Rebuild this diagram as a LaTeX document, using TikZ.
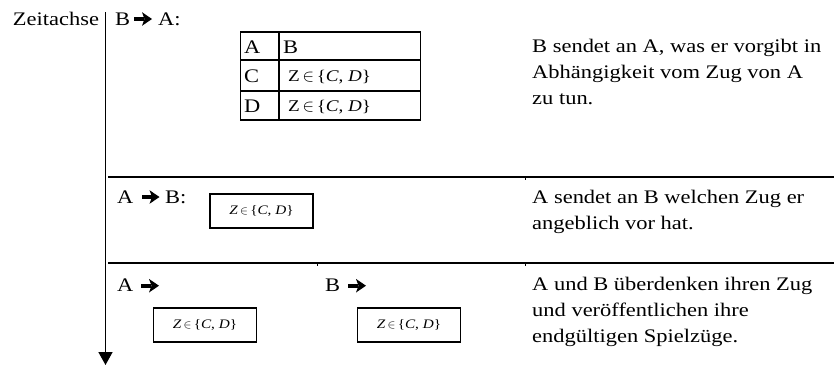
\documentclass[tikz,border=0pt]{standalone}
\usepackage{fontspec}
\setmainfont{Liberation Serif}[FakeStretch=1.17]
\usetikzlibrary{arrows.meta}
\newcommand{\zset}{Z\,$\in$\,\{\textit{C}, \textit{D}\}}
\newcommand{\zseti}{\textit{Z}\,$\in$\,\{\textit{C}, \textit{D}\}}
\tikzset{
  body/.style={anchor=base west, inner sep=0pt, align=left, font=\fontsize{19.2}{26}\selectfont},
  cell/.style={anchor=base west, inner sep=0pt, font=\fontsize{19.2}{26}\selectfont},
  mathcell/.style={anchor=base west, inner sep=0pt, font=\fontsize{16.3}{18}\selectfont},
  zbox/.style={draw, line width=1.4pt, minimum width=103pt, minimum height=34pt, inner sep=0pt, font=\fontsize{13}{14}\selectfont},
  rule/.style={line width=2pt},
  tline/.style={line width=1.5pt},
  harrow/.pic={
    \fill (0,-2) rectangle (10,2);
    \fill (8,-6.8) -- (18,0) -- (8,6.8) -- (10.5,0) -- cycle;
  },
}
\begin{document}
\begin{tikzpicture}[x=1pt,y=-1pt]
\useasboundingbox (0,0) rectangle (834,365);
% time axis
\coordinate (axtop) at (105.5,12);
\coordinate (axbot) at (105.5,365);
\draw[line width=1.5pt, -{Triangle[width=14pt,length=13pt]}] (axtop) -- (axbot);
\node[body] (zeit) at (12.7,25) {Zeitachse};
% separating rules
\coordinate (r1a) at (108,176.5);
\coordinate (r1b) at (834,176.5);
\coordinate (r2a) at (108,263);
\coordinate (r2b) at (834,263);
\draw[rule] (r1a) -- (r1b);
\draw[rule] (r2a) -- (r2b);
\coordinate (t1) at (525,176.5);
\coordinate (t2) at (525,263);
\coordinate (t3) at (317,263);
\draw[line width=0.8pt] (t1) -- ++(0,3);
\draw[line width=0.8pt] (t2) -- ++(0,3);
\draw[line width=0.8pt] (t3) -- ++(0,3);
% row 1
\node[body] (b1) at (115,25) {B};
\pic at (134,19) {harrow};
\node[body] (a1) at (158,25) {A:};
\coordinate (tabnw) at (240.5,32);
\coordinate (tabse) at (420.5,120);
\draw[tline] (tabnw) rectangle (tabse);
\draw[tline] (240.5,60) -- (420.5,60);
\draw[tline] (240.5,91) -- (420.5,91);
\draw[tline] (279,32) -- (279,120);
\node[cell] (cA) at (244,53.5) {A};
\node[cell] (cB) at (283,53.5) {B};
\node[cell] (cC) at (244,82) {C};
\node[cell] (cD) at (244,112) {D};
\node[mathcell] (m1) at (288,81) {\zset};
\node[mathcell] (m2) at (288,111) {\zset};
\node[body] (txt1) at (532,104.7) {B sendet an A, was er vorgibt in\\Abhängigkeit vom Zug von A\\zu tun.};
% row 2
\node[body] (a2) at (117,203) {A};
\pic at (141.5,197) {harrow};
\node[body] (b2) at (165,203) {B:};
\node[zbox] (box1) at (261.5,211) {\zseti};
\node[body] (txt2) at (532,229.3) {A sendet an B welchen Zug er\\angeblich vor hat.};
% row 3
\node[body] (a3) at (117,291.7) {A};
\pic at (141,285.7) {harrow};
\node[body] (b3) at (325,291.7) {B};
\pic at (348,285.7) {harrow};
\node[zbox] (box2) at (205,325) {\zseti};
\node[zbox] (box3) at (409,325) {\zseti};
\node[body] (txt3) at (532,342) {A und B überdenken ihren Zug\\und veröffentlichen ihre\\endgültigen Spielzüge.};
\end{tikzpicture}
\end{document}
